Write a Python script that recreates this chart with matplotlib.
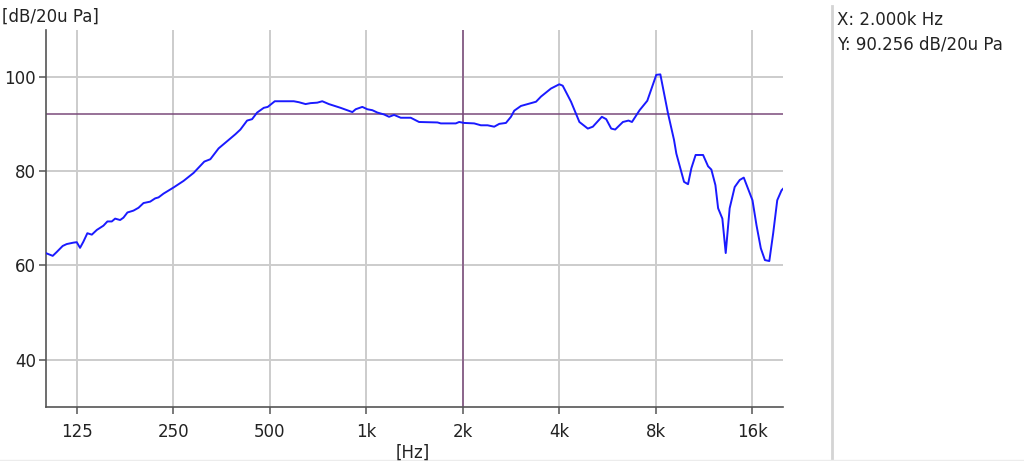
import matplotlib
matplotlib.use("Agg")
import matplotlib.pyplot as plt
from matplotlib.ticker import FixedLocator, NullLocator

# frequency response (Hz, dB re 20 uPa)
freq = [100, 105.2, 108.2, 113.0, 116.3, 122.0, 125.0, 128.0, 131.1, 134.9,
        139.3, 144.4, 151.4, 155.8, 160.8, 164.7, 170.7, 174.8, 179.9, 187.9,
        194.8, 201.9, 211.8, 219.6, 224.9, 233.1, 250.5, 269.2, 289.4, 312.5,
        326.3, 346.3, 376.8, 390.6, 405.0, 424.9, 440.4, 456.6, 478.9, 492.9,
        518.4, 594.2, 616.0, 646.6, 670.3, 703.3, 729.1, 764.6, 831.8, 905.1,
        926.6, 972.0, 1007.7, 1044.6, 1083.0, 1136.0, 1177.8, 1221.0, 1281.0, 1376.5,
        1461.0, 1668.0, 1708.0, 1902.6, 1949.0, 2019.4, 2170.4, 2278.0, 2390.0, 2506.5,
        2599.0, 2727.0, 2827.0, 2895.0, 3037.0, 3305.0, 3385.0, 3509.0, 3769.0, 4001.0,
        4100.0, 4352.0, 4622.0, 4910.0, 5090.0, 5431.0, 5603.0, 5808.0, 5977.0, 6317.0,
        6576.0, 6742.0, 7122.0, 7526.0, 8029.0, 8266.0, 8735.0, 9119.0, 9272.0, 9800.0,
        10085, 10330, 10650, 11236, 11647, 11925, 12277, 12517, 12905, 13220,
        13600, 14100, 14620, 15050, 16020, 16490, 17010, 17520, 18080, 18590,
        19140, 19740, 20000]
level = [62.6, 62.0, 62.8, 64.1, 64.5, 64.8, 64.9, 63.7, 65.0, 66.8,
         66.5, 67.5, 68.4, 69.3, 69.3, 69.9, 69.6, 70.1, 71.2, 71.6,
         72.2, 73.2, 73.5, 74.2, 74.4, 75.2, 76.5, 77.9, 79.6, 82.0,
         82.5, 84.8, 86.9, 87.8, 88.8, 90.7, 91.0, 92.4, 93.4, 93.6,
         94.8, 94.8, 94.6, 94.2, 94.4, 94.5, 94.8, 94.2, 93.4, 92.5,
         93.1, 93.6, 93.1, 92.9, 92.4, 92.0, 91.5, 91.9, 91.3, 91.3,
         90.4, 90.3, 90.1, 90.1, 90.4, 90.2, 90.1, 89.7, 89.7, 89.4,
         90.0, 90.2, 91.5, 92.8, 93.8, 94.5, 94.7, 95.8, 97.5, 98.4,
         98.1, 94.7, 90.4, 89.0, 89.4, 91.5, 91.0, 89.0, 88.8, 90.4,
         90.7, 90.4, 92.9, 94.9, 100.4, 100.5, 92.2, 86.6, 83.7, 77.7,
         77.2, 80.6, 83.4, 83.4, 81.0, 80.3, 77.0, 72.1, 69.9, 62.6,
         72.1, 76.6, 78.1, 78.6, 73.8, 68.5, 63.6, 61.1, 60.9, 66.8,
         73.8, 75.9, 76.3]

x_ticks = [125, 250, 500, 1000, 2000, 4000, 8000, 16000]
x_labels = ["125", "250", "500", "1k", "2k", "4k", "8k", "16k"]
y_ticks = [40, 60, 80, 100]

cursor_x = 2000
cursor_y = 92.2
cursor_text = ["X: 2.000k Hz", "Y: 90.256 dB/20u Pa"]

plt.rcParams['font.family'] = ['DejaVu Sans']
fig = plt.figure(figsize=(10.24, 4.61), dpi=100)
ax = fig.add_axes([0.0446, 0.1178, 0.7204, 0.818])

ax.set_xscale('log')
ax.set_xlim(100, 20000)
ax.set_ylim(30, 110)

ax.xaxis.set_major_locator(FixedLocator(x_ticks))
ax.xaxis.set_minor_locator(NullLocator())
ax.set_xticklabels(x_labels)
ax.set_yticks(y_ticks)

ax.grid(True, color='#cccccc', linewidth=1.4)
ax.set_axisbelow(True)

ax.axvline(cursor_x, color='#7a4a7a', linewidth=1.1, zorder=2)
ax.axhline(cursor_y, color='#7a4a7a', linewidth=1.1, zorder=2)

ax.plot(freq, level, color='#1a1aff', linewidth=1.4, zorder=3)

for side in ['top', 'right']:
    ax.spines[side].set_visible(False)
for side in ['left', 'bottom']:
    ax.spines[side].set_color('#555555')
    ax.spines[side].set_linewidth(1.2)

ax.tick_params(axis='both', labelsize=12, colors='#222222', width=1.1,
               length=5, color='#555555')
ax.tick_params(axis='x', pad=7)
ax.tick_params(axis='y', pad=2)

fig.text(0.002, 0.963, "[dB/20u Pa]", fontsize=12, color='#222222', ha='left', va='center')
fig.text(0.403, 0.018, "[Hz]", fontsize=12, color='#222222', ha='center', va='center')

# cursor readout panel
fig.add_artist(plt.Line2D([0.8125, 0.8125], [0.0, 0.987], transform=fig.transFigure,
                          color='#d4d4d4', linewidth=2))
fig.add_artist(plt.Line2D([0.0, 1.0], [0.002, 0.002], transform=fig.transFigure,
                          color='#ececec', linewidth=1))
fig.text(0.817, 0.957, cursor_text[0], fontsize=12, color='#222222', ha='left', va='center')
fig.text(0.817, 0.904, cursor_text[1], fontsize=12, color='#222222', ha='left', va='center')

fig.savefig("out.png", dpi=100)
